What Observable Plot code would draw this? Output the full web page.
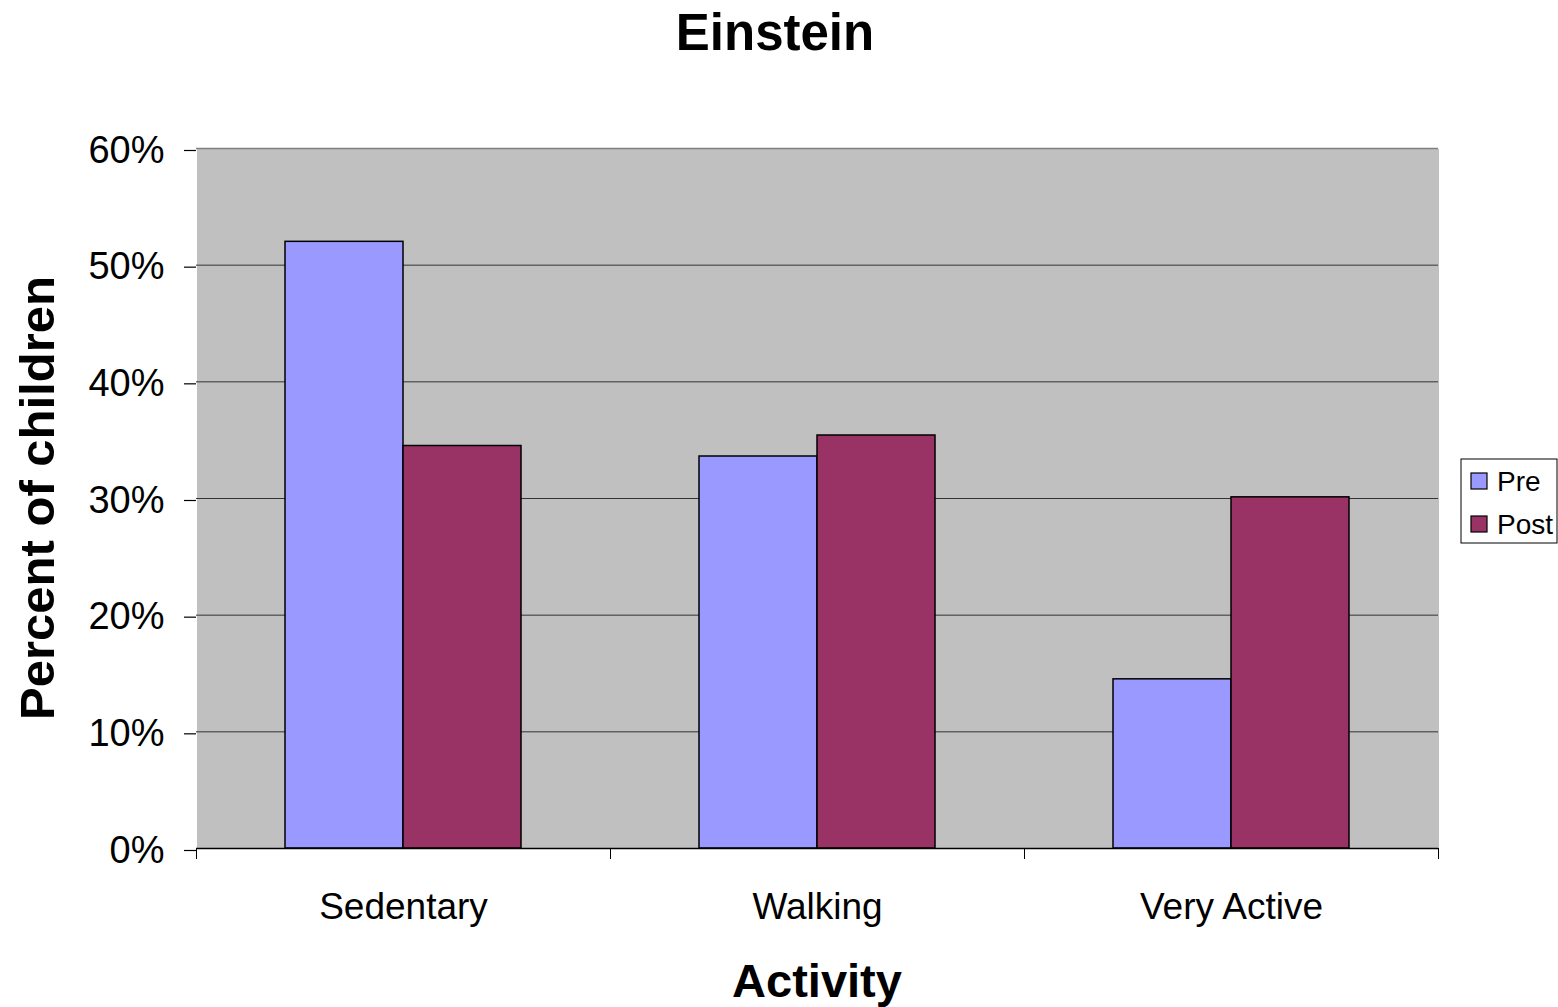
<!DOCTYPE html>
<html><head><meta charset="utf-8">
<script src="https://cdn.jsdelivr.net/npm/d3@7"></script>
<script src="https://cdn.jsdelivr.net/npm/@observablehq/plot@0.6"></script>
<style>
body{margin:0;background:#fff;font-family:"Liberation Sans",Arial,sans-serif}
#wrap{position:relative;width:1558px;height:1007px}
</style></head><body><div id="wrap"></div>
<script>
const categories = ["Sedentary", "Walking", "Very Active"];
const series = ["Pre", "Post"];
const pre = [0.52, 0.336, 0.145];
const post = [0.345, 0.354, 0.301];
const yTicks = [0, 0.1, 0.2, 0.3, 0.4, 0.5, 0.6];
const gridTicks = [0.1, 0.2, 0.3, 0.4, 0.5];
const colors = ["#9999ff", "#993366"];

const data = categories.flatMap((c, i) => [
  {activity: c, series: "Pre", value: pre[i]},
  {activity: c, series: "Post", value: post[i]}
]);

const font = "'Liberation Sans', Arial, sans-serif";
const plot = Plot.plot({
  width: 1558, height: 1007,
  marginTop: 148, marginBottom: 159, marginLeft: 195, marginRight: 119,
  style: {fontFamily: font, fontSize: "37px", color: "#000", background: "transparent"},
  fx: {domain: categories, padding: 0, label: null},
  x: {domain: series, paddingInner: 0, paddingOuter: 0.75, axis: null},
  y: {domain: [0, 0.6], label: null},
  color: {domain: series, range: colors},
  marks: [
    Plot.frame({fill: "#c0c0c0", stroke: null, shapeRendering: "crispEdges"}),
    Plot.gridY(gridTicks, {stroke: "#333", strokeOpacity: 1}),
    Plot.ruleY([0.6], {stroke: "#808080", strokeWidth: 1.5}),
    Plot.axisY({anchor: "right", ticks: [], tickSize: 0, line: true, stroke: "#808080", strokeWidth: 1.5, label: null}),
    Plot.barY(data, {fx: "activity", x: "series", y: "value", fill: "series", stroke: "#000", strokeWidth: 1.5}),
    Plot.ruleY([0], {stroke: "#000", strokeWidth: 1.5}),
    Plot.axisY({anchor: "left", ticks: yTicks, tickFormat: d3.format(".0%"), tickSize: 12, tickPadding: 20, line: true, stroke: "#000", strokeWidth: 1.2, label: null, fontSize: 38, dy: 2}),
    Plot.frame({anchor: "left", insetTop: 700, insetBottom: -10, stroke: "#000"}),
    Plot.frame({anchor: "right", insetTop: 700, insetBottom: -10, stroke: "#000"}),
    Plot.axisFx({anchor: "bottom", tickSize: 0, tickPadding: 44, label: null, fontSize: 37})
  ]
});
document.getElementById("wrap").appendChild(plot);

const svg = d3.select(plot);
const addText = (txt, x, y, size, weight, anchor, rot) => {
  const t = svg.append("text").text(txt)
    .attr("font-family", font).attr("font-size", size).attr("font-weight", weight)
    .attr("text-anchor", anchor).attr("fill", "#000");
  if (rot) t.attr("transform", `translate(${x},${y}) rotate(${rot})`);
  else t.attr("x", x).attr("y", y);
};
addText("Einstein", 775, 50, 51, "bold", "middle");
addText("Activity", 817, 997, 47, "bold", "middle");
addText("Percent of children", 54, 498, 49, "bold", "middle", -90);

// legend
const color = plot.scale("color");
const lg = svg.append("g");
lg.append("rect").attr("x", 1461).attr("y", 459).attr("width", 96).attr("height", 84)
  .attr("fill", "#fff").attr("stroke", "#000").attr("stroke-width", 1);
series.forEach((s, i) => {
  const cy = 481 + i * 43;
  lg.append("rect").attr("x", 1471).attr("y", cy - 8).attr("width", 16).attr("height", 16)
    .attr("fill", color.apply(s)).attr("stroke", "#000").attr("stroke-width", 1.2);
  lg.append("text").text(s).attr("x", 1497).attr("y", cy + 10).attr("text-anchor", "start")
    .attr("font-family", font).attr("font-size", 28).attr("fill", "#000");
});
</script></body></html>
